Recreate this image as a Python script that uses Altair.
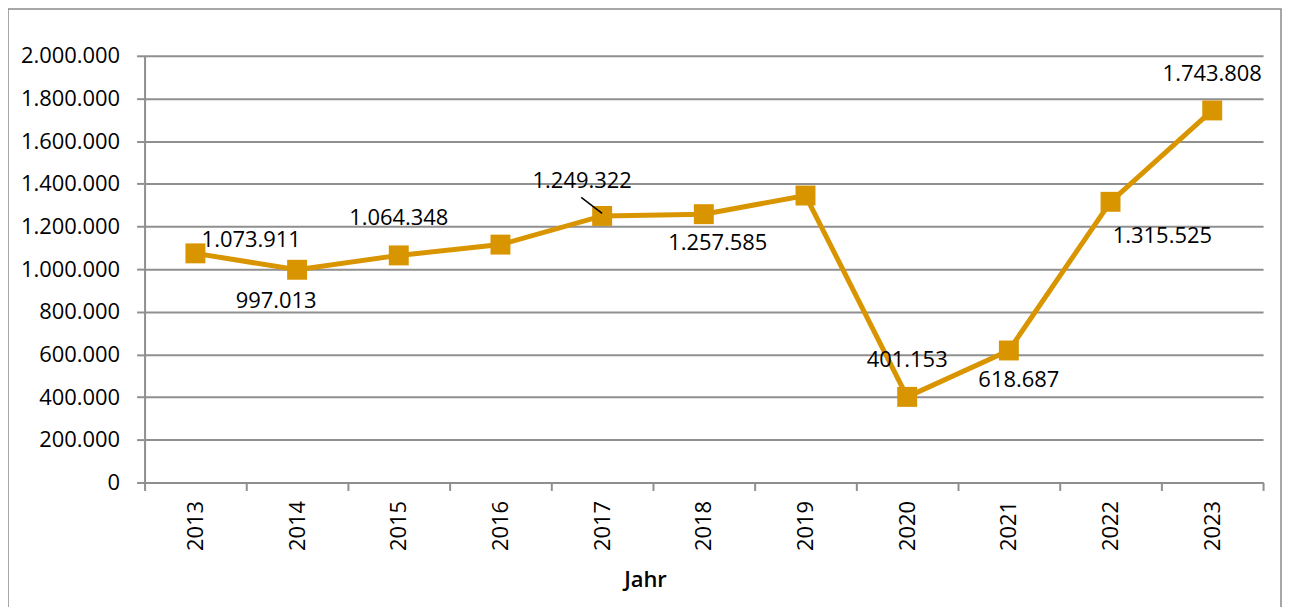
import altair as alt
import pandas as pd

years = ["2013", "2014", "2015", "2016", "2017", "2018", "2019", "2020", "2021", "2022", "2023"]
values = [1073911, 997013, 1064348, 1115000, 1249322, 1257585, 1345000, 401153, 618687, 1315525, 1743808]
labels = ["1.073.911", "997.013", "1.064.348", "", "1.249.322", "1.257.585", "", "401.153", "618.687", "1.315.525", "1.743.808"]

df = pd.DataFrame({"Jahr": years, "Wert": values, "Label": labels})

COLOR = "#D99500"
GRID = "#8f8f8f"
FONT = "Open Sans"
FS = 22
W, H = 1122, 428

xenc = alt.X("Jahr:N", sort=years,
             scale=alt.Scale(type="band", paddingInner=0, paddingOuter=0),
             axis=alt.Axis(title="Jahr", labelAngle=270, tickBand="extent",
                           labelAlign="right", labelBaseline="middle",
                           labelFontSize=FS, labelFont=FONT, labelColor="#000",
                           labelPadding=10, tickSize=8, tickColor=GRID, tickWidth=2,
                           domainColor=GRID, domainWidth=2, grid=False,
                           titleFont=FONT, titleFontSize=22, titleFontWeight=600,
                           titleColor="#000", titleX=502, titleY=97,
                           titleBaseline="middle", titleAlign="center"))
yenc = alt.Y("Wert:Q", scale=alt.Scale(domain=[0, 2000000], nice=False),
             axis=alt.Axis(title=None, values=list(range(0, 2000001, 200000)),
                           labelExpr="replace(format(datum.value, ','), regexp(',', 'g'), '.')",
                           labelFontSize=FS, labelFont=FONT, labelColor="#000",
                           labelPadding=17, tickSize=8, tickColor=GRID, tickWidth=2,
                           domainColor=GRID, domainWidth=2,
                           gridColor=GRID, gridWidth=2))

base = alt.Chart(df)

line = base.mark_line(color=COLOR, strokeWidth=5).encode(x=xenc, y=yenc)
pts = base.mark_square(color=COLOR, size=400, opacity=1).encode(x=xenc, y=yenc)

placements = {
    "2013": (56, -13), "2014": (-21, 31), "2015": (0, -37), "2017": (-20, -35),
    "2018": (14, 29), "2020": (0, -37), "2021": (10, 30), "2022": (52, 34), "2023": (0, -37),
}
text_layers = []
for yr, (dx, dy) in placements.items():
    text_layers.append(
        base.transform_filter(alt.datum.Jahr == yr)
        .mark_text(font=FONT, fontSize=FS, color="#000", dx=dx, dy=dy, baseline="middle")
        .encode(x=xenc, y=yenc, text="Label:N")
    )

# leader line of the 2017 label
lead = alt.Chart(pd.DataFrame({"a": [0]})).mark_rule(color="#000", strokeWidth=1.5).encode(
    x=alt.value(438), x2=alt.value(459), y=alt.value(142), y2=alt.value(158)
)

frame = alt.Chart(pd.DataFrame({"a": [0]})).mark_rect(
    fill=None, stroke="#8a8a8a", strokeWidth=1.5
).encode(x=alt.value(-137), x2=alt.value(1140), y=alt.value(-47), y2=alt.value(640))

chart = alt.layer(frame, line, pts, lead, *text_layers).properties(
    width=W, height=H,
    padding={"left": 137, "top": 47, "right": 20, "bottom": 130},
    autosize=alt.AutoSizeParams(type="none"),
).configure_view(stroke=None)

chart.save("out.html", embed_options={"renderer": "svg", "actions": False})
